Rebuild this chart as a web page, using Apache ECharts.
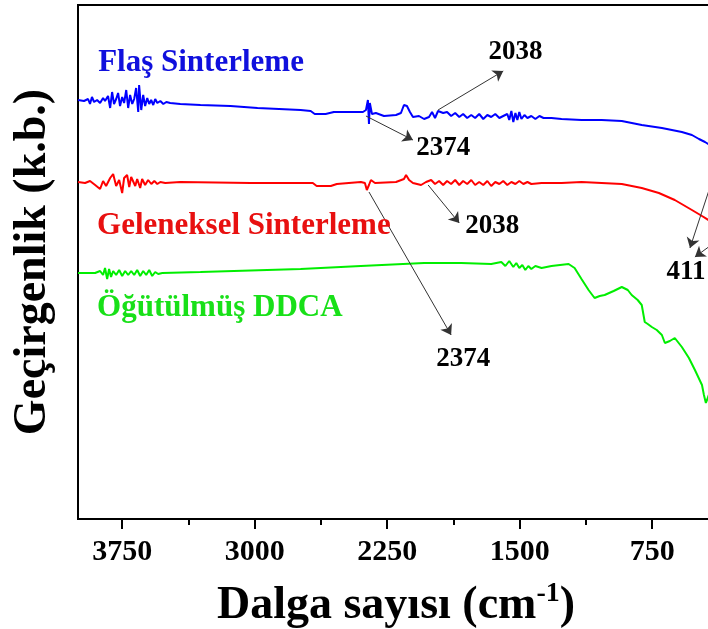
<!DOCTYPE html>
<html>
<head>
<meta charset="utf-8">
<script src="https://cdn.jsdelivr.net/npm/echarts@6/dist/echarts.min.js"></script>
<style>
  html, body { margin: 0; padding: 0; background: #fff; }
  #chart { width: 708px; height: 629px; }
</style>
</head>
<body>
<div id="chart"></div>
<script>
// FTIR transmittance spectra, offset vertically (arbitrary units)
const FONT = "'Liberation Serif', 'Times New Roman', serif";

const seriesNames = ['Flaş Sinterleme', 'Geleneksel Sinterleme', 'Öğütülmüş DDCA'];
const seriesColors = ['#0000ff', '#ff0000', '#00ee00'];
const textColors = ['#1010dd', '#e81010', '#18e018'];

// [wavenumber (cm-1), transmittance (a.u.)]
const flasSinterleme = [
  [4000,83.8],[3966,83.6],[3943,84.0],[3932,83.0],[3921,84.4],[3909,83.4],[3892,83.8],[3875,83.2],
  [3858,84.2],[3847,83.6],[3830,84.6],[3818,82.2],[3807,85.4],[3796,83.0],[3784,84.0],[3773,85.2],
  [3762,82.6],[3750,84.4],[3739,83.2],[3727,85.8],[3716,82.2],[3705,84.8],[3693,83.0],[3682,84.0],
  [3671,86.2],[3659,81.4],[3654,86.8],[3642,81.8],[3631,84.8],[3620,82.6],[3608,84.2],[3597,83.0],
  [3586,83.8],[3574,82.8],[3563,84.0],[3551,83.2],[3534,83.6],[3517,83.0],[3500,83.4],[3478,83.2],
  [3421,83.0],[3307,82.8],[3137,82.6],[2984,82.2],[2740,81.8],[2683,81.6],[2660,81.0],[2598,81.0],
  [2552,81.4],[2456,81.4],[2387,81.4],[2370,81.8],[2359,83.8],[2353,79.0],[2348,83.2],[2336,81.0],
  [2314,81.2],[2268,80.6],[2200,80.8],[2172,81.2],[2155,82.8],[2138,82.6],[2121,81.4],[2104,80.4],
  [2070,80.6],[2041,80.0],[2013,80.4],[1996,81.4],[1979,80.2],[1962,81.6],[1933,81.2],[1911,81.4],
  [1888,80.6],[1865,81.2],[1842,80.4],[1820,81.0],[1797,80.2],[1774,80.8],[1752,80.2],[1729,81.0],
  [1706,80.0],[1683,80.8],[1661,80.4],[1638,81.0],[1615,80.2],[1593,80.6],[1570,81.0],[1559,79.8],
  [1547,81.6],[1536,79.4],[1524,81.2],[1513,79.8],[1502,81.4],[1490,80.0],[1473,80.8],[1456,80.2],
  [1434,80.6],[1411,80.0],[1388,80.6],[1365,80.2],[1320,80.2],[1263,80.0],[1150,79.8],[1036,79.8],
  [922,79.6],[809,78.8],[695,78.2],[582,77.4],[525,76.8],[485,76.0],[451,75.4],[423,74.8],[400,73.8]
];

const gelenekselSinterleme = [
  [4000,67.4],[3960,67.2],[3932,67.6],[3903,66.8],[3875,66.0],[3858,67.6],[3841,66.6],[3818,68.2],
  [3801,69.0],[3784,66.6],[3767,67.8],[3750,65.2],[3739,68.2],[3722,68.8],[3710,66.4],[3699,68.4],
  [3688,68.6],[3676,66.6],[3665,68.0],[3648,66.2],[3637,68.0],[3620,66.8],[3603,67.8],[3585,67.0],
  [3568,67.6],[3551,67.0],[3534,67.4],[3506,67.2],[3421,67.4],[3023,67.2],[2740,67.2],[2671,67.2],
  [2649,66.6],[2569,66.6],[2535,67.0],[2399,67.4],[2376,67.2],[2365,65.8],[2359,65.4],[2353,66.8],
  [2342,67.8],[2319,67.2],[2200,67.4],[2155,68.0],[2143,68.8],[2126,67.8],[2104,67.2],[2058,66.8],
  [2030,67.4],[2001,67.8],[1979,67.0],[1956,67.6],[1933,66.8],[1911,67.6],[1888,67.0],[1865,67.8],
  [1842,66.8],[1820,67.6],[1797,67.0],[1774,67.8],[1752,66.8],[1729,67.4],[1706,66.8],[1683,67.6],
  [1661,66.6],[1638,67.4],[1615,67.0],[1593,67.6],[1570,66.8],[1547,67.4],[1524,67.0],[1502,67.6],
  [1479,67.0],[1456,67.4],[1434,67.0],[1376,67.2],[1263,67.2],[1150,67.4],[1036,67.2],[922,67.0],
  [809,66.2],[712,65.2],[622,63.8],[525,61.8],[468,60.6],[423,59.6],[400,58.6]
];

const ogutulmusDDCA = [
  [4000,49.2],[3903,49.2],[3875,49.6],[3858,48.8],[3847,50.2],[3835,48.0],[3824,50.0],[3813,48.4],
  [3801,49.6],[3784,48.8],[3767,49.8],[3750,48.6],[3733,49.6],[3716,48.8],[3699,49.6],[3682,48.8],
  [3665,49.8],[3648,48.6],[3631,49.6],[3614,48.8],[3597,49.8],[3580,48.6],[3563,49.4],[3546,49.0],
  [3523,49.2],[3307,49.4],[2740,50.0],[2399,50.6],[2041,51.2],[1831,51.2],[1661,51.0],[1604,51.4],
  [1581,50.6],[1559,51.6],[1536,50.4],[1519,51.2],[1502,50.2],[1485,50.8],[1468,49.8],[1451,50.6],
  [1434,50.0],[1411,50.6],[1376,50.2],[1320,50.6],[1223,51.0],[1189,50.2],[1150,48.0],[1110,45.8],
  [1076,44.2],[1047,44.6],[1019,44.8],[968,45.6],[922,46.4],[888,45.8],[866,44.8],[832,43.8],
  [809,42.8],[792,39.4],[775,39.0],[752,38.4],[724,37.8],[695,36.8],[678,35.2],[650,35.6],
  [622,36.2],[582,34.4],[542,32.2],[508,29.8],[468,26.8],[457,24.8],[446,23.2],[423,25.4],[400,28.0]
];

const majorTicks = [3750, 3000, 2250, 1500, 750];
const minorTicks = [3375, 2625, 1875, 1125];

// peak annotations: arrow start / end in data units, and the label position
const arrowSeries = [0, 0, 1, 1, 0, 1];
const arrowFrom = [[1962,81.8],[2370,80.6],[2018,66.8],[2353,65.4],[400,68.8],[400,55.2]];
const arrowTo   = [[1593,89.6],[2104,75.8],[1842,59.2],[1888,36.8],[536,54.2],[508,52.4]];
const peakLabels = ['2038', '2374', '2038', '2374', '411'];
const peakLabelPos = [[1524,93.4],[1933,74.2],[1655,58.6],[1820,32.0],[559,49.4]];

// series name labels (left edge, vertical centre) in data units
const nameLabelPos = [[3886,91.3],[3892,58.6],[3892,42.3]];

const allData = [flasSinterleme, gelenekselSinterleme, ogutulmusDDCA];

const chart = echarts.init(document.getElementById('chart'), null, { renderer: 'canvas' });

const series = allData.map((d, i) => {
  const lines = [];
  arrowFrom.forEach((f, k) => {
    if (arrowSeries[k] === i) lines.push([{ coord: f }, { coord: arrowTo[k] }]);
  });
  return {
    type: 'line',
    name: seriesNames[i],
    data: d,
    showSymbol: false,
    clip: true,
    lineStyle: { color: seriesColors[i], width: 2 },
    itemStyle: { color: seriesColors[i] },
    z: 3,
    markLine: lines.length ? {
      silent: true,
      symbol: ['none', 'arrow'],
      symbolSize: 10,
      label: { show: false },
      emphasis: { disabled: true },
      lineStyle: { color: '#333', width: 1, type: 'solid' },
      data: lines
    } : undefined
  };
});

chart.setOption({
  animation: false,
  backgroundColor: '#fff',
  grid: {
    left: 78, right: -6, top: 5, bottom: 110,
    containLabel: false,
    outerBoundsMode: 'none',
    show: true, borderColor: '#000', borderWidth: 2
  },
  xAxis: [{
    type: 'value',
    min: 400, max: 4000,
    inverse: true,
    name: 'Dalga sayısı (cm{sup|-1})',
    nameLocation: 'middle',
    nameGap: 61,
    nameTextStyle: {
      fontFamily: FONT, fontWeight: 'bold', fontSize: 46, color: '#000', lineHeight: 52,
      rich: {
        sup: { fontFamily: FONT, fontWeight: 'bold', fontSize: 28, color: '#000', verticalAlign: 'top', lineHeight: 52, padding: [0, 0, 22, 0] }
      }
    },
    axisLine: { show: true, lineStyle: { color: '#000', width: 2 } },
    axisTick: { show: true, length: 10, lineStyle: { color: '#000', width: 2 }, customValues: majorTicks },
    axisLabel: {
      show: true, margin: 18, customValues: majorTicks,
      formatter: v => String(v),
      fontFamily: FONT, fontWeight: 'bold', fontSize: 30, color: '#000'
    },
    splitLine: { show: false }
  }, {
    type: 'value',
    min: 400, max: 4000,
    inverse: true,
    position: 'bottom',
    axisLine: { show: false },
    axisTick: { show: true, length: 6, lineStyle: { color: '#000', width: 2 }, customValues: minorTicks },
    axisLabel: { show: false, customValues: minorTicks },
    splitLine: { show: false }
  }],
  yAxis: {
    type: 'value',
    min: 0, max: 102.8,
    name: 'Geçirgenlik (k.b.)',
    nameLocation: 'middle',
    nameGap: 22,
    nameTextStyle: { fontFamily: FONT, fontWeight: 'bold', fontSize: 46, color: '#000' },
    axisLine: { show: true, lineStyle: { color: '#000', width: 2 } },
    axisTick: { show: false },
    axisLabel: { show: false },
    splitLine: { show: false }
  },
  series: series
});

// text labels placed from data coordinates
const texts = [];
peakLabels.forEach((t, i) => {
  const p = chart.convertToPixel({ gridIndex: 0 }, peakLabelPos[i]);
  texts.push({
    type: 'text', x: p[0], y: p[1], z: 10, silent: true,
    style: { text: t, fill: '#000', font: 'bold 27px ' + FONT, textAlign: 'center', textVerticalAlign: 'middle' }
  });
});
seriesNames.forEach((t, i) => {
  const p = chart.convertToPixel({ gridIndex: 0 }, nameLabelPos[i]);
  texts.push({
    type: 'text', x: p[0], y: p[1], z: 10, silent: true,
    style: { text: t, fill: textColors[i], font: 'bold 31px ' + FONT, textAlign: 'left', textVerticalAlign: 'middle' }
  });
});
chart.setOption({ graphic: texts });
</script>
</body>
</html>
